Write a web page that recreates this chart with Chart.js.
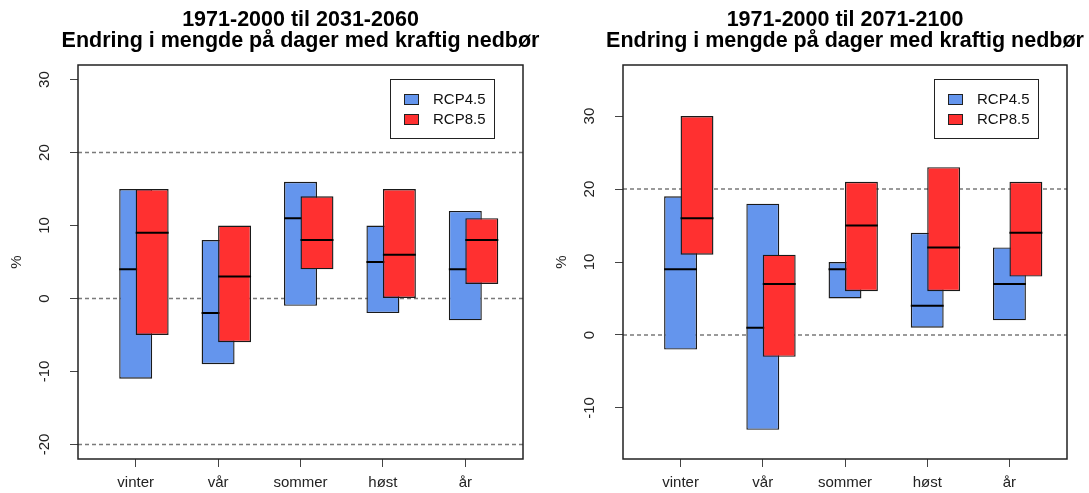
<html>
<head>
  <meta charset="utf-8">
  <script src="https://cdn.jsdelivr.net/npm/chart.js"></script>
  <style>
    body { margin: 0; background: #fff; }
    #wrap { display: flex; }
  </style>
</head>
<body>
<div id="wrap">
  <canvas id="chartA" width="545" height="493"></canvas>
  <canvas id="chartB" width="544" height="493"></canvas>
</div>
<script>
  const seasons = ['vinter', 'vår', 'sommer', 'høst', 'år'];
  const scenarios = ['RCP4.5', 'RCP8.5'];
  const subtitle = 'Endring i mengde på dager med kraftig nedbør';

  // 1971-2000 til 2031-2060
  const midLow45 = [-11, -9, -1, -2, -3];
  const midHigh45 = [15, 8, 16, 10, 12];
  const midMed45 = [4, -2, 11, 5, 4];
  const midLow85 = [-5, -6, 4, 0, 2];
  const midHigh85 = [15, 10, 14, 15, 11];
  const midMed85 = [9, 3, 8, 6, 8];
  const midTicks = [-20, -10, 0, 10, 20, 30];
  const midRefLines = [-20, 0, 20];

  // 1971-2000 til 2071-2100
  const endLow45 = [-2, -13, 5, 1, 2];
  const endHigh45 = [19, 18, 10, 14, 12];
  const endMed45 = [9, 1, 9, 4, 7];
  const endLow85 = [11, -3, 6, 6, 8];
  const endHigh85 = [30, 11, 21, 23, 21];
  const endMed85 = [16, 7, 15, 12, 14];
  const endTicks = [-10, 0, 10, 20, 30];
  const endRefLines = [0, 20];

  const FONT = '"Liberation Sans", Arial, Helvetica, sans-serif';
  const BLUE = '#6495ED';
  const RED = '#FF3030';
  const SHIFT = 0.2; // RCP8.5 box sits half a box to the right

  Chart.defaults.font.family = FONT;

  // two-line title centred over the plot region (like R's main=),
  // drawn by hand so the canvas does not squeeze it to the plot width
  const mainTitle = {
    id: 'mainTitle',
    afterDraw(chart, args, opts) {
      const {ctx, chartArea: a} = chart;
      ctx.save();
      ctx.fillStyle = '#000';
      ctx.font = 'bold 21.5px ' + FONT;
      ctx.textAlign = 'center';
      ctx.textBaseline = 'middle';
      const cx = (a.left + a.right) / 2;
      opts.lines.forEach((t, i) => ctx.fillText(t, cx, 20 + i * 21));
      ctx.restore();
    }
  };

  // dashed abline()s, under the boxes
  const refLines = {
    id: 'refLines',
    beforeDatasetsDraw(chart, args, opts) {
      const {ctx, chartArea: a, scales: {y}} = chart;
      ctx.save();
      ctx.strokeStyle = '#7a7a7a';
      ctx.lineWidth = 1.5;
      ctx.setLineDash([4, 3]);
      opts.values.forEach(v => {
        const py = y.getPixelForValue(v);
        ctx.beginPath();
        ctx.moveTo(a.left, py);
        ctx.lineTo(a.right, py);
        ctx.stroke();
      });
      ctx.restore();
    }
  };

  // median line right after each dataset, so red boxes cover blue medians
  const medians = {
    id: 'medians',
    afterDatasetDraw(chart, args) {
      const ds = chart.data.datasets[args.index];
      const y = chart.scales.y;
      const ctx = chart.ctx;
      ctx.save();
      ctx.strokeStyle = '#000';
      ctx.lineWidth = 2;
      args.meta.data.forEach((bar, i) => {
        const py = y.getPixelForValue(ds.medians[i]);
        ctx.beginPath();
        ctx.moveTo(bar.x - bar.width / 2, py);
        ctx.lineTo(bar.x + bar.width / 2, py);
        ctx.stroke();
      });
      ctx.restore();
    }
  };

  // box round the plot + legend("topright")
  const frame = {
    id: 'frame',
    afterDraw(chart) {
      const {ctx, chartArea: a} = chart;
      ctx.save();
      ctx.strokeStyle = '#222';
      ctx.lineWidth = 1.5;
      ctx.strokeRect(a.left, a.top, a.right - a.left, a.bottom - a.top);

      const w = 104, h = 59;
      const lx = Math.round(a.right - 29 - w), ly = Math.round(a.top + 14);
      ctx.fillStyle = '#fff';
      ctx.fillRect(lx, ly, w, h);
      ctx.lineWidth = 1;
      ctx.strokeRect(lx + 0.5, ly + 0.5, w, h);
      ctx.font = '15px ' + FONT;
      ctx.textBaseline = 'middle';
      chart.data.datasets.forEach((ds, i) => {
        const cy = ly + 20 + i * 20;
        ctx.fillStyle = ds.backgroundColor;
        ctx.fillRect(lx + 14, cy - 5, 14, 10);
        ctx.strokeStyle = '#222';
        ctx.strokeRect(lx + 14.5, cy - 4.5, 14, 10);
        ctx.fillStyle = '#111';
        ctx.fillText(ds.label, lx + 43, cy + 1);
      });
      ctx.restore();
    }
  };

  function boxes(label, color, low, high, med, shift, order) {
    return {
      label: label,
      backgroundColor: color,
      borderColor: '#1a1a1a',
      borderWidth: 1.4,
      borderSkipped: false,
      grouped: false,
      categoryPercentage: 1,
      barPercentage: 2,
      order: order,
      medians: med,
      data: seasons.map((s, i) => ({x: i + 1 + shift, y: [low[i], high[i]]}))
    };
  }

  function makeChart(id, period, sets, yMin, yMax, yTicks, lines) {
    return new Chart(document.getElementById(id), {
      type: 'bar',
      data: {datasets: sets},
      plugins: [refLines, medians, frame, mainTitle],
      options: {
        responsive: false,
        animation: false,
        layout: {padding: {top: 65, right: 22}},
        plugins: {
          legend: {display: false},
          tooltip: {enabled: false},
          mainTitle: {lines: [period, subtitle]},
          refLines: {values: lines}
        },
        scales: {
          x: {
            type: 'linear',
            min: 0.3,
            max: 5.7,
            offset: false,
            afterBuildTicks: s => { s.ticks = seasons.map((c, i) => ({value: i + 1})); },
            afterFit: s => { s.height = 34; },
            ticks: {
              callback: v => seasons[v - 1],
              color: '#222',
              font: {size: 15},
              padding: 7,
              autoSkip: false,
              maxRotation: 0
            },
            grid: {offset: false, drawOnChartArea: false, drawTicks: true, tickLength: 8, color: '#444'},
            border: {display: false}
          },
          y: {
            min: yMin,
            max: yMax,
            afterBuildTicks: s => { s.ticks = yTicks.map(v => ({value: v})); },
            afterFit: s => { s.width = 78; },
            ticks: {
              minRotation: 90,
              maxRotation: 90,
              crossAlign: 'center',
              padding: 14,
              color: '#222',
              font: {size: 15}
            },
            grid: {drawOnChartArea: false, drawTicks: true, tickLength: 8, color: '#444'},
            border: {display: false},
            title: {display: true, text: '%', color: '#222', font: {size: 15}, padding: {top: 8, bottom: 0}}
          }
        }
      }
    });
  }

  makeChart('chartA', '1971-2000 til 2031-2060', [
    boxes(scenarios[0], BLUE, midLow45, midHigh45, midMed45, 0, 2),
    boxes(scenarios[1], RED, midLow85, midHigh85, midMed85, SHIFT, 1)
  ], -22, 32, midTicks, midRefLines);

  makeChart('chartB', '1971-2000 til 2071-2100', [
    boxes(scenarios[0], BLUE, endLow45, endHigh45, endMed45, 0, 2),
    boxes(scenarios[1], RED, endLow85, endHigh85, endMed85, SHIFT, 1)
  ], -17, 37, endTicks, endRefLines);
</script>
</body>
</html>
